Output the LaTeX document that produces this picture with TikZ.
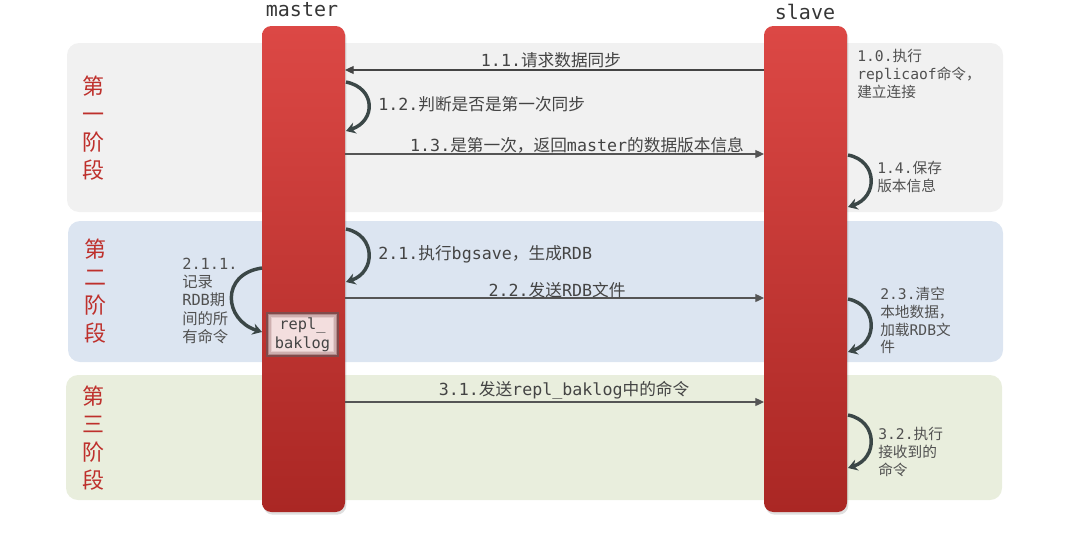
\documentclass[tikz,border=0pt]{standalone}
\usepackage{fontspec}
\setmainfont{DejaVu Sans Mono}
\newfontfamily\zhfont{Noto Sans CJK SC}
\newcommand\zh[1]{{\zhfont #1}}
\usetikzlibrary{shadows,arrows.meta}
\definecolor{bandA}{HTML}{F1F1F1}
\definecolor{bandB}{HTML}{DCE5F1}
\definecolor{bandC}{HTML}{E9EEDD}
\definecolor{barTop}{HTML}{DC4845}
\definecolor{barBot}{HTML}{AA2724}
\definecolor{phasec}{HTML}{BE302C}
\definecolor{txtc}{HTML}{444444}
\definecolor{sidec}{HTML}{505050}
\definecolor{linec}{HTML}{555555}
\definecolor{loopc}{HTML}{3B4747}
\definecolor{boxfill}{HTML}{F3DEDE}
\definecolor{boxedge}{HTML}{7A4444}
\begin{document}
\begin{tikzpicture}[x=0.75pt,y=-0.75pt,
  band/.style={draw=none,rounded corners=9pt},
  bar/.style={draw=none,rounded corners=7pt,top color=barTop,bottom color=barBot,
    minimum width=62.25pt,minimum height=364.5pt,inner sep=0pt,
    drop shadow={opacity=0.25,shadow xshift=1pt,shadow yshift=-2pt}},
  actor/.style={text=txtc!80!black,font=\fontsize{15}{18}\selectfont},
  phase/.style={text=phasec,align=center,font=\zhfont\fontsize{16.5}{21}\selectfont},
  msg/.style={draw=linec,line width=0.9pt,-{Triangle[length=6.5pt,width=6pt]}},
  msgl/.style={text=txtc,font=\fontsize{12.5}{15}\selectfont,inner sep=0pt},
  side/.style={text=sidec,align=left,anchor=north west,inner sep=0pt,font=\fontsize{11}{13.3}\selectfont},
  selfloop/.style={draw=loopc,line width=2.6pt,-{Stealth[length=7pt,width=8.5pt]}},
  logbox/.style={fill=boxfill,draw=none,minimum width=54.75pt,minimum height=33.75pt,
    inner sep=0pt,align=center,text=txtc,font=\fontsize{11.5}{14}\selectfont},
  glow/.style={draw=boxedge,line width=1.2pt}]
\useasboundingbox (0,0) rectangle (1077,550);
% phase bands
\path[band,fill=bandA] (67,43) rectangle (1003,212);
\path[band,fill=bandB] (68,221) rectangle (1003,362);
\path[band,fill=bandC] (66,375) rectangle (1002,500);
\node[phase] (p1) at (93,128) {第\\一\\阶\\段};
\node[phase] (p2) at (95,291) {第\\二\\阶\\段};
\node[phase] (p3) at (93,438) {第\\三\\阶\\段};
% actors
\node[bar] (master) at (303.5,269) {};
\node[bar] (slave) at (805.5,269) {};
\node[actor] (mlab) at (302,10) {master};
\node[actor] (slab) at (805,12) {slave};
% backlog box with inner glow
\node[logbox] (log) at (302.5,334.5) {};
\draw[glow,opacity=0.95] (266.8,312.8) rectangle (338.2,356.2);
\draw[glow,opacity=0.55] (268.4,314.4) rectangle (336.6,354.6);
\draw[glow,opacity=0.3] (270,316) rectangle (335,353);
\draw[glow,opacity=0.12] (271.6,317.6) rectangle (333.4,351.4);
\node[logbox,fill=none] (logtext) at (log.center) {repl\_\\baklog};
% message end points
\coordinate (s11) at (764,70);  \coordinate (m11) at (345,70);
\coordinate (m13) at (345,154); \coordinate (s13) at (764,154);
\coordinate (m22) at (345,298); \coordinate (s22) at (764,298);
\coordinate (m31) at (345,402); \coordinate (s31) at (764,402);
\draw[msg,draw=linec!80!black] (s11) -- (m11);
\draw[msg] (m13) -- (s13);
\draw[msg] (m22) -- (s22);
\draw[msg] (m31) -- (s31);
\node[msgl] (l11) at (551,60) {1.1.\zh{请求数据同步}};
\node[msgl] (l13) at (577,145) {1.3.\zh{是第一次，返回}master\zh{的数据版本信息}};
\node[msgl] (l22) at (557,290) {2.2.\zh{发送}RDB\zh{文件}};
\node[msgl] (l31) at (564,390) {3.1.\zh{发送}repl\_baklog\zh{中的命令}};
% self loops
\coordinate (a12) at (346,82);  \coordinate (b12) at (346,131);
\coordinate (a14) at (848,155); \coordinate (b14) at (848,207);
\coordinate (a21) at (346,229); \coordinate (b21) at (346,282);
\coordinate (a23) at (848,299); \coordinate (b23) at (848,352);
\coordinate (a32) at (848,415); \coordinate (b32) at (848,468);
\coordinate (a211) at (262,268); \coordinate (b211) at (262,332);
\draw[selfloop] (a12) .. controls +(30,6) and +(30,-10) .. (b12);
\draw[selfloop] (a14) .. controls +(30,6) and +(30,-10) .. (b14);
\draw[selfloop] (a21) .. controls +(30,6) and +(30,-10) .. (b21);
\draw[selfloop] (a23) .. controls +(30,6) and +(30,-10) .. (b23);
\draw[selfloop] (a32) .. controls +(30,6) and +(30,-10) .. (b32);
\draw[selfloop] (a211) .. controls +(-42,6) and +(-38,-12) .. (b211);
% side labels
\node[msgl,anchor=west] (l12) at (378,104) {1.2.\zh{判断是否是第一次同步}};
\node[msgl,anchor=west] (l21) at (378,254) {2.1.\zh{执行}bgsave\zh{，生成}RDB};
\node[side] (l10) at (857,49) {1.0.\zh{执行}\\replicaof\zh{命令，}\\\zh{建立连接}};
\node[side] (l14) at (877,161) {1.4.\zh{保存}\\\zh{版本信息}};
\node[side] (l23) at (880,287) {2.3.\zh{清空}\\\zh{本地数据，}\\\zh{加载}RDB\zh{文}\\\zh{件}};
\node[side] (l32) at (878,427) {3.2.\zh{执行}\\\zh{接收到的}\\\zh{命令}};
\node[side,font=\fontsize{11.5}{13.6}\selectfont] (l211) at (182,258) {2.1.1.\\\zh{记录}\\RDB\zh{期}\\\zh{间的所}\\\zh{有命令}};
\end{tikzpicture}
\end{document}
